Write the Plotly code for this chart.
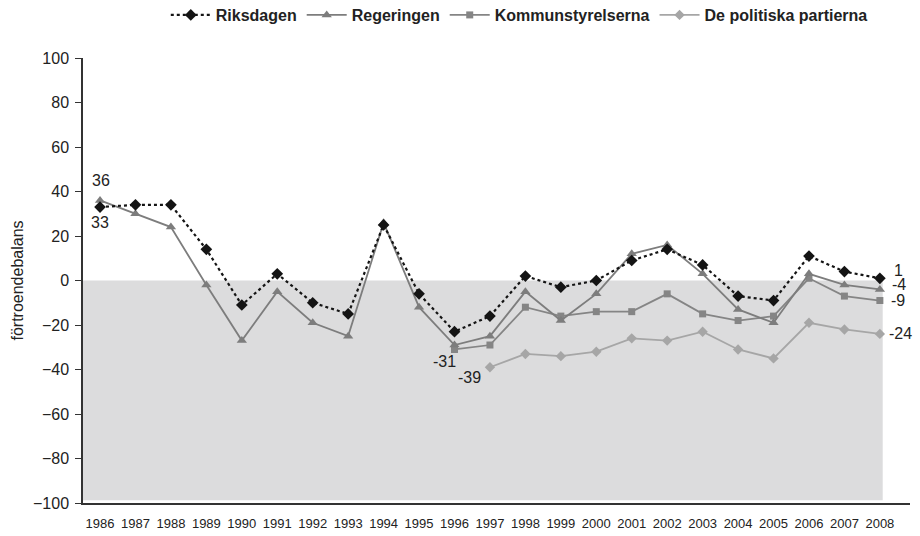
import plotly.graph_objects as go

years = list(range(1986, 2009))

riksdagen = [33, 34, 34, 14, -11, 3, -10, -15, 25, -6, -23, -16, 2, -3, 0, 9, 14, 7, -7, -9, 11, 4, 1]
regeringen = [36, 30, 24, -2, -27, -5, -19, -25, 26, -12, -29, -25, -5, -18, -6, 12, 16, 3, -13, -19, 3, -2, -4]
kommun = [None] * 10 + [-31, -29, -12, -16, -14, -14, -6, -15, -18, -16, 1, -7, -9]
partier = [None] * 11 + [-39, -33, -34, -32, -26, -27, -23, -31, -35, -19, -22, -24]

y_ticks = list(range(-100, 101, 20))

FONT = "Liberation Sans, Arial, Helvetica, sans-serif"

fig = go.Figure()

# ritordning: ljusast först, Riksdagen sist (överst)
fig.add_trace(go.Scatter(
    x=years, y=partier, name="De politiska partierna", mode="lines+markers",
    line=dict(color="#a6a6a6", width=1.8),
    marker=dict(symbol="diamond", size=8, color="#a6a6a6"),
    legendrank=4,
))
fig.add_trace(go.Scatter(
    x=years, y=kommun, name="Kommunstyrelserna", mode="lines+markers",
    line=dict(color="#858585", width=1.8),
    marker=dict(symbol="square", size=7, color="#858585"),
    legendrank=3,
))
fig.add_trace(go.Scatter(
    x=years, y=regeringen, name="Regeringen", mode="lines+markers",
    line=dict(color="#7d7d7d", width=1.8),
    marker=dict(symbol="triangle-up", size=9, color="#7d7d7d"),
    legendrank=2,
))
fig.add_trace(go.Scatter(
    x=years, y=riksdagen, name="Riksdagen", mode="lines+markers",
    line=dict(color="#141414", width=2.2, dash="dot"),
    marker=dict(symbol="diamond", size=9, color="#141414"),
    legendrank=1,
))

# grå bakgrund för negativa värden
fig.add_shape(
    type="rect", xref="x", yref="y",
    x0=1985.5, x1=years[-1] + 0.08, y0=-98.8, y1=0,
    fillcolor="#dcdcdd", line=dict(width=0), layer="below",
)

label_font = dict(family=FONT, size=16, color="#222222")


def label(x, y, text, xshift=0, yshift=0):
    fig.add_annotation(
        x=x, y=y, text=text, showarrow=False, font=label_font,
        xshift=xshift, yshift=yshift,
    )


label(years[0], regeringen[0], str(regeringen[0]), xshift=1, yshift=20)
label(years[0], riksdagen[0], str(riksdagen[0]), xshift=0, yshift=-15)
label(years[10], kommun[10], str(kommun[10]), xshift=-10, yshift=-12)
label(years[11], partier[11], str(partier[11]), xshift=-20, yshift=-10)
label(years[-1], riksdagen[-1], str(riksdagen[-1]), xshift=19, yshift=8)
label(years[-1], regeringen[-1], str(regeringen[-1]), xshift=19, yshift=5)
label(years[-1], kommun[-1], str(kommun[-1]), xshift=18, yshift=0)
label(years[-1], partier[-1], str(partier[-1]), xshift=21, yshift=0)

fig.update_layout(
    width=920, height=536,
    margin=dict(l=83, r=10, t=58, b=33, autoexpand=False),
    paper_bgcolor="white", plot_bgcolor="white",
    font=dict(family=FONT, size=14, color="#222222"),
    showlegend=True,
    legend=dict(
        orientation="h", x=0.955, xanchor="right", y=1.0966, yanchor="middle",
        font=dict(size=16, family=FONT, weight="bold"),
        itemwidth=40, bgcolor="rgba(0,0,0,0)",
    ),
)

fig.update_xaxes(
    range=[1985.52, 2008.85],
    tickvals=years, ticktext=[str(y) for y in years],
    tickfont=dict(size=13), ticks="", ticklabelstandoff=8,
    showgrid=False, zeroline=False, automargin=False,
    showline=True, linecolor="#333333", linewidth=1.5,
)
fig.update_yaxes(
    range=[-100, 100], tickvals=y_ticks,
    tickfont=dict(size=16), ticks="outside", ticklen=6, tickcolor="#333333",
    ticklabelstandoff=3,
    showgrid=False, zeroline=False, automargin=False,
    showline=True, linecolor="#333333", linewidth=1.5,
    title=dict(text="förtroendebalans", font=dict(size=16), standoff=5),
)

# sidans standardmarginal (8 px) skulle annars flytta hela figuren
fig.write_html(
    "out.html",
    config={"displayModeBar": False},
    post_script="document.body.style.margin='0';",
)
